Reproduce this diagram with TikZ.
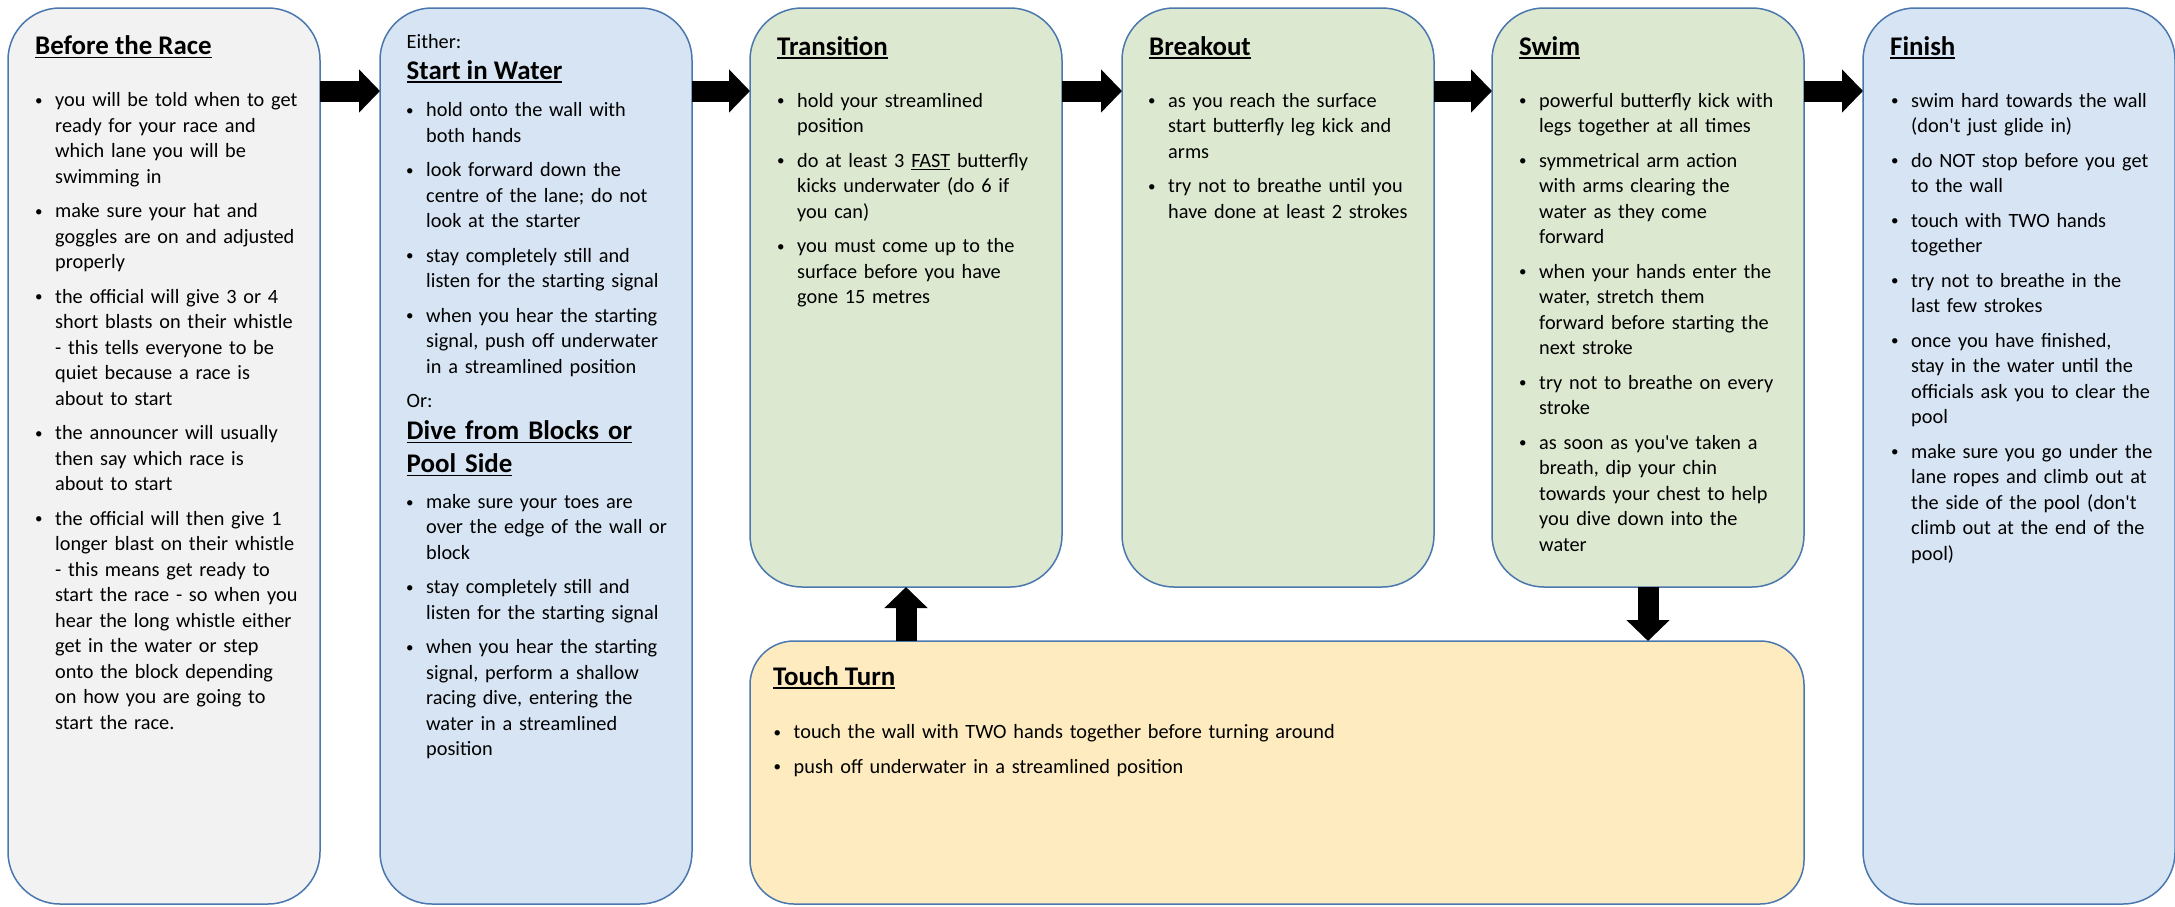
\documentclass[tikz,border=0pt]{standalone}
\usepackage{fontspec}
\setmainfont{Carlito}
\usetikzlibrary{arrows.meta}

\definecolor{edgeblue}{HTML}{4A78AE}
\definecolor{racegrey}{HTML}{F2F2F2}
\definecolor{startblue}{HTML}{D7E4F3}
\definecolor{swimgreen}{HTML}{DDE8D1}
\definecolor{turnyellow}{HTML}{FEEBBF}

% underlined headings and words
\newcommand{\headul}[1]{\setbox0\hbox{#1}\rlap{\rule[-3.8pt]{\wd0}{1.8pt}}\box0\relax}
\newcommand{\bodyul}[1]{\setbox0\hbox{#1}\rlap{\rule[-2.8pt]{\wd0}{1.3pt}}\box0\relax}
% one bullet point, lines broken by hand
\newcommand{\bul}[1]{\parskip=9pt\hangindent=20pt\hangafter=1\noindent
  \makebox[20pt][l]{\raisebox{1.3pt}{\fontsize{15}{15}\selectfont\textbullet}}#1\par}

\tikzset{
  stage/.style={draw=edgeblue, line width=1.5pt, anchor=north west, outer sep=0pt,
    rounded corners=52pt, minimum width=312pt, minimum height=896pt},
  heading/.style={anchor=base west, inner sep=0pt, font=\fontsize{26.9}{33}\selectfont\bfseries},
  plain/.style={anchor=base west, inner sep=0pt, font=\fontsize{20.3}{25.5}\selectfont},
  points/.style={plain, text width=300pt, align=left},
  flow/.style={line width=21pt, -{Triangle[length=21pt, width=42pt]}}
}

\begin{document}
\begin{tikzpicture}[x=1pt, y=-1pt]
  \useasboundingbox (0,0) rectangle (2175,906);
  % the stages
  \node[stage, fill=racegrey] (race) at (8,8) {};
  \node[stage, fill=startblue] (start) at (380,8) {};
  \node[stage, fill=swimgreen, minimum height=579pt] (trans) at (750,8) {};
  \node[stage, fill=swimgreen, minimum height=579pt] (breakout) at (1122,8) {};
  \node[stage, fill=swimgreen, minimum height=579pt] (swim) at (1492,8) {};
  \node[stage, fill=startblue] (finish) at (1863,8) {};
  \node[stage, fill=turnyellow, minimum width=1054pt, minimum height=263pt, rounded corners=44pt] (turn) at (750,641) {};

  % before the race
  \node[heading] (racehead) at ([shift={(27,46.5)}]race.north west) {\headul{Before the Race}};
  \node[points] (racepts) at ([shift={(27,98.5)}]race.north west) {%
    \bul{you will be told when to get\newline ready for your race and\newline which lane you will be\newline swimming in}
    \bul{make sure your hat and\newline goggles are on and adjusted\newline properly}
    \bul{the official will give 3 or 4\newline short blasts on their whistle\newline - this tells everyone to be\newline quiet because a race is\newline about to start}
    \bul{the announcer will usually\newline then say which race is\newline about to start}
    \bul{the official will then give 1\newline longer blast on their whistle\newline - this means get ready to\newline start the race - so when you\newline hear the long whistle either\newline get in the water or step\newline onto the block depending\newline on how you are going to\newline start the race.}};

  % start
  \node[plain] (either) at ([shift={(26.5,40.3)}]start.north west) {Either:};
  \node[heading] (waterhead) at ([shift={(26.5,71.3)}]start.north west) {\headul{Start in Water}};
  \node[points] (waterpts) at ([shift={(26,108.7)}]start.north west) {%
    \bul{hold onto the wall with\newline both hands}
    \bul{look forward down the\newline centre of the lane; do not\newline look at the starter}
    \bul{stay completely still and\newline listen for the starting signal}
    \bul{when you hear the starting\newline signal, push off underwater\newline in a streamlined position}};
  \node[plain] (or) at ([shift={(26.5,399.3)}]start.north west) {Or:};
  \node[heading, text width=290pt, align=left] (divehead) at ([shift={(26.5,431.5)}]start.north west)
    {\headul{Dive from Blocks or}\newline\headul{Pool Side}};
  \node[points] (divepts) at ([shift={(26,500.3)}]start.north west) {%
    \bul{make sure your toes are\newline over the edge of the wall or\newline block}
    \bul{stay completely still and\newline listen for the starting signal}
    \bul{when you hear the starting\newline signal, perform a shallow\newline racing dive, entering the\newline water in a streamlined\newline position}};

  % transition
  \node[heading] (transhead) at ([shift={(27,47)}]trans.north west) {\headul{Transition}};
  \node[points] (transpts) at ([shift={(27,99)}]trans.north west) {%
    \bul{hold your streamlined\newline position}
    \bul{do at least 3 \bodyul{FAST} butterfly\newline kicks underwater (do 6 if\newline you can)}
    \bul{you must come up to the\newline surface before you have\newline gone 15 metres}};

  % breakout
  \node[heading] (breakhead) at ([shift={(27,47)}]breakout.north west) {\headul{Breakout}};
  \node[points] (breakpts) at ([shift={(26,99)}]breakout.north west) {%
    \bul{as you reach the surface\newline start butterfly leg kick and\newline arms}
    \bul{try not to breathe until you\newline have done at least 2 strokes}};

  % swim
  \node[heading] (swimhead) at ([shift={(27,47)}]swim.north west) {\headul{Swim}};
  \node[points] (swimpts) at ([shift={(27,99)}]swim.north west) {%
    \bul{powerful butterfly kick with\newline legs together at all times}
    \bul{symmetrical arm action\newline with arms clearing the\newline water as they come\newline forward}
    \bul{when your hands enter the\newline water, stretch them\newline forward before starting the\newline next stroke}
    \bul{try not to breathe on every\newline stroke}
    \bul{as soon as you\textquotesingle ve taken a\newline breath, dip your chin\newline towards your chest to help\newline you dive down into the\newline water}};

  % finish
  \node[heading] (finishhead) at ([shift={(27,47)}]finish.north west) {\headul{Finish}};
  \node[points] (finishpts) at ([shift={(28,99)}]finish.north west) {%
    \bul{swim hard towards the wall\newline (don\textquotesingle t just glide in)}
    \bul{do NOT stop before you get\newline to the wall}
    \bul{touch with TWO hands\newline together}
    \bul{try not to breathe in the\newline last few strokes}
    \bul{once you have finished,\newline stay in the water until the\newline officials ask you to clear the\newline pool}
    \bul{make sure you go under the\newline lane ropes and climb out at\newline the side of the pool (don\textquotesingle t\newline climb out at the end of the\newline pool)}};

  % touch turn
  \node[heading] (turnhead) at ([shift={(23,44)}]turn.north west) {\headul{Touch Turn}};
  \node[points, text width=700pt] (turnpts) at ([shift={(23.5,97.5)}]turn.north west) {%
    \bul{touch the wall with TWO hands together before turning around}
    \bul{push off underwater in a streamlined position}};

  % arrows between the stages
  \draw[flow] ([yshift=-83pt]race.north east) -- ([yshift=-83pt]start.north west);
  \draw[flow] ([yshift=-83pt]start.north east) -- ([yshift=-83pt]trans.north west);
  \draw[flow] ([yshift=-83pt]trans.north east) -- ([yshift=-83pt]breakout.north west);
  \draw[flow] ([yshift=-83pt]breakout.north east) -- ([yshift=-83pt]swim.north west);
  \draw[flow] ([yshift=-83pt]swim.north east) -- ([yshift=-83pt]finish.north west);
  \draw[flow] (trans.south |- turn.north) -- (trans.south);
  \draw[flow] (swim.south) -- (swim.south |- turn.north);
\end{tikzpicture}
\end{document}
